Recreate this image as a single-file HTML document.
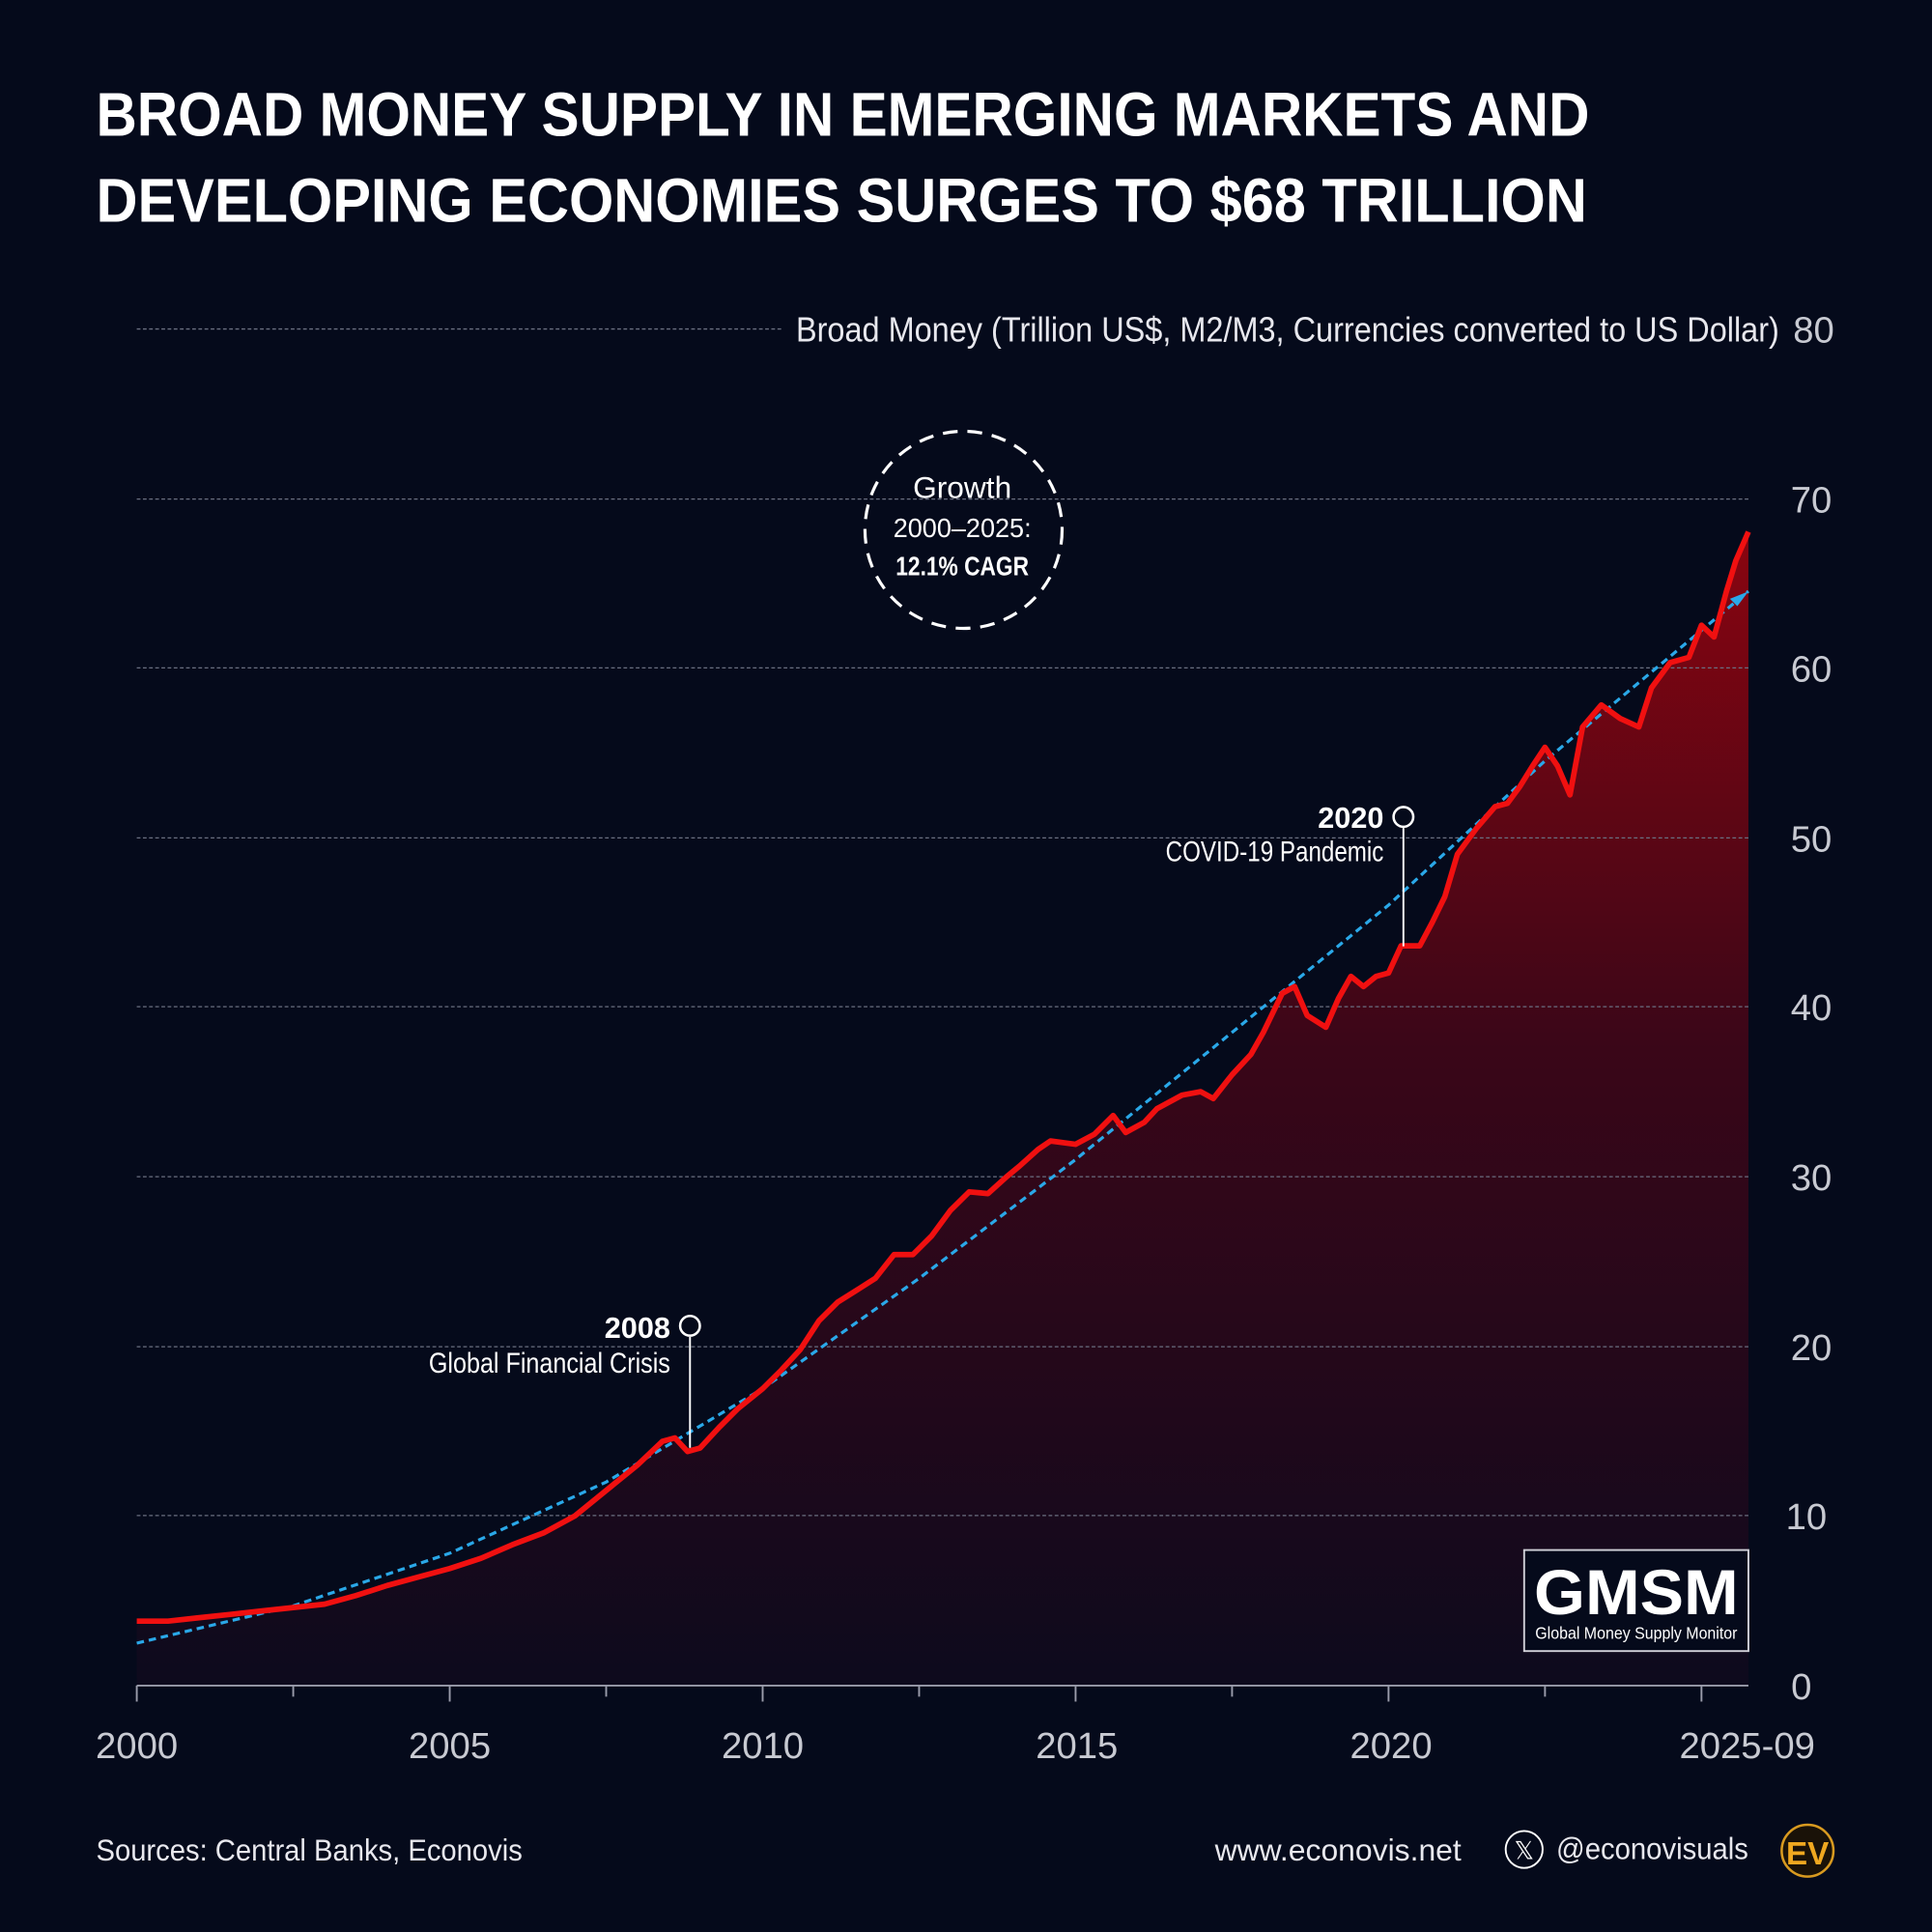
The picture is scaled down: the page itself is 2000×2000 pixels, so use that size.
<!DOCTYPE html>
<html><head><meta charset="utf-8"><style>
html,body{margin:0;padding:0;background:#050a1b;}
svg{display:block}
text{font-family:"Liberation Sans",sans-serif;}
</style></head><body>
<svg width="2000" height="2000" viewBox="0 0 1568 1568" xmlns="http://www.w3.org/2000/svg">
<defs>
<linearGradient id="fg" gradientUnits="userSpaceOnUse" x1="0" y1="430" x2="0" y2="1368">
<stop offset="0" stop-color="#8a0510"/>
<stop offset="0.45" stop-color="#3a0618"/>
<stop offset="1" stop-color="#0d0a1d"/>
</linearGradient>
</defs>
<rect width="1568" height="1568" fill="#050a1b"/>
<text x="78" y="110" font-size="50" font-weight="bold" fill="#fff" textLength="1212" lengthAdjust="spacingAndGlyphs">BROAD MONEY SUPPLY IN EMERGING MARKETS AND</text>
<text x="78" y="180" font-size="50" font-weight="bold" fill="#fff" textLength="1210" lengthAdjust="spacingAndGlyphs">DEVELOPING ECONOMIES SURGES TO $68 TRILLION</text>

<path id="area" fill="url(#fg)" d=""/>

<g stroke="#6a6f80" stroke-width="1" stroke-dasharray="3,2">
<line x1="111" x2="635" y1="267" y2="267"/>
<line x1="111" x2="1419" y1="405" y2="405"/>
<line x1="111" x2="1419" y1="542" y2="542"/>
<line x1="111" x2="1419" y1="680" y2="680"/>
<line x1="111" x2="1419" y1="817" y2="817"/>
<line x1="111" x2="1419" y1="955" y2="955"/>
<line x1="111" x2="1419" y1="1093" y2="1093"/>
<line x1="111" x2="1419" y1="1230" y2="1230"/>
</g>
<text x="1444" y="277" font-size="28" fill="#e8e8ee" text-anchor="end" textLength="798" lengthAdjust="spacingAndGlyphs">Broad Money (Trillion US$, M2/M3, Currencies converted to US Dollar)</text>
<g font-size="30" fill="#c8cad2" text-anchor="middle">
<text x="1472" y="278">80</text><text x="1470" y="416">70</text><text x="1470" y="553">60</text>
<text x="1470" y="691">50</text><text x="1470" y="828">40</text><text x="1470" y="966">30</text>
<text x="1470" y="1104">20</text><text x="1466" y="1241">10</text><text x="1462" y="1379">0</text>
</g>

<path id="trend" fill="none" stroke="#2aa8e8" stroke-width="2.5" stroke-dasharray="6,4" d=""/>
<path id="line" fill="none" stroke="#f01010" stroke-width="4.5" stroke-linejoin="round" d=""/>
<polygon points="1419,480 1404,486 1410,492" fill="#2aa8e8"/>

<line x1="111" x2="1419" y1="1368" y2="1368" stroke="#9a9cab" stroke-width="1.5"/>
<g id="ticks" stroke="#9a9cab" stroke-width="1.5"></g>
<g font-size="30" fill="#c8cad2" text-anchor="middle">
<text x="111" y="1427">2000</text><text x="365" y="1427">2005</text><text x="619" y="1427">2010</text>
<text x="874" y="1427">2015</text><text x="1129" y="1427">2020</text><text x="1418" y="1427">2025-09</text>
</g>

<circle cx="782" cy="430" r="80" fill="none" stroke="#fff" stroke-width="2.5" stroke-dasharray="12,8"/>
<g fill="#fff" text-anchor="middle">
<text x="781" y="404" font-size="25" textLength="80" lengthAdjust="spacingAndGlyphs">Growth</text>
<text x="781" y="436" font-size="22" textLength="112" lengthAdjust="spacingAndGlyphs">2000–2025:</text>
<text x="781" y="467" font-size="22" font-weight="bold" textLength="108" lengthAdjust="spacingAndGlyphs">12.1% CAGR</text>
</g>

<line x1="560" y1="1085" x2="560" y2="1175" stroke="#fff" stroke-width="1.5"/>
<circle cx="560" cy="1076" r="8" fill="#050a1b" stroke="#fff" stroke-width="2"/>
<text x="544" y="1086" font-size="24" font-weight="bold" fill="#fff" text-anchor="end">2008</text>
<text x="544" y="1114" font-size="23" fill="#fff" text-anchor="end" textLength="196" lengthAdjust="spacingAndGlyphs">Global Financial Crisis</text>

<line x1="1139" y1="672" x2="1139" y2="768" stroke="#fff" stroke-width="1.5"/>
<circle cx="1139" cy="663" r="8" fill="#050a1b" stroke="#fff" stroke-width="2"/>
<text x="1123" y="672" font-size="24" font-weight="bold" fill="#fff" text-anchor="end">2020</text>
<text x="1123" y="699" font-size="23" fill="#fff" text-anchor="end" textLength="177" lengthAdjust="spacingAndGlyphs">COVID-19 Pandemic</text>

<rect x="1237" y="1258" width="182" height="82" fill="#050a1b" stroke="#d0d0d8" stroke-width="1.5"/>
<text x="1328" y="1310" font-size="52" font-weight="bold" fill="#fff" text-anchor="middle" textLength="166" lengthAdjust="spacingAndGlyphs">GMSM</text>
<text x="1328" y="1330" font-size="14" fill="#fff" text-anchor="middle" textLength="164" lengthAdjust="spacingAndGlyphs">Global Money Supply Monitor</text>

<text x="78" y="1510" font-size="25" fill="#e8e8ee" textLength="346" lengthAdjust="spacingAndGlyphs">Sources: Central Banks, Econovis</text>
<text x="1186" y="1510" font-size="25" fill="#e8e8ee" text-anchor="end">www.econovis.net</text>
<circle cx="1237" cy="1501" r="15" fill="none" stroke="#fff" stroke-width="1.5"/>
<text x="1237" y="1509" font-size="20" fill="#fff" text-anchor="middle">𝕏</text>
<text x="1419" y="1509" font-size="25" fill="#e8e8ee" text-anchor="end" textLength="156" lengthAdjust="spacingAndGlyphs">@econovisuals</text>
<circle cx="1467" cy="1502" r="21" fill="#1a1208" stroke="#d89a20" stroke-width="2"/>
<text x="1467" y="1513" font-size="26" font-weight="bold" fill="#f0a820" text-anchor="middle">EV</text>
</svg>
<script>
var X=function(y){return 111+(y-2000)*(1308/25.75)};
var Y=function(v){return 1368-v*13.77};
var d=[[2000,3.8],[2000.5,3.8],[2001,4.0],[2001.5,4.2],[2002,4.4],[2002.5,4.6],[2003,4.8],[2003.5,5.3],[2004,5.9],[2004.5,6.4],[2005,6.9],[2005.5,7.5],[2006,8.3],[2006.5,9.0],[2007,10.0],[2007.5,11.5],[2008,13.0],[2008.4,14.4],[2008.6,14.6],[2008.8,13.8],[2009,14.0],[2009.3,15.2],[2009.6,16.3],[2010,17.5],[2010.3,18.6],[2010.6,19.8],[2010.9,21.5],[2011.2,22.6],[2011.5,23.3],[2011.8,24.0],[2012.1,25.4],[2012.4,25.4],[2012.7,26.5],[2013,28.0],[2013.3,29.1],[2013.6,29.0],[2013.9,30.0],[2014.1,30.6],[2014.4,31.6],[2014.6,32.1],[2015,31.9],[2015.3,32.5],[2015.6,33.6],[2015.8,32.6],[2016.1,33.2],[2016.3,34.0],[2016.7,34.8],[2017,35.0],[2017.2,34.6],[2017.5,36.0],[2017.8,37.2],[2018,38.5],[2018.3,40.8],[2018.5,41.2],[2018.7,39.5],[2019,38.8],[2019.2,40.5],[2019.4,41.8],[2019.6,41.2],[2019.8,41.8],[2020,42.0],[2020.2,43.6],[2020.5,43.6],[2020.7,45.0],[2020.9,46.5],[2021.1,49.0],[2021.4,50.5],[2021.7,51.8],[2021.9,52.0],[2022.1,53.0],[2022.3,54.2],[2022.5,55.3],[2022.7,54.2],[2022.9,52.5],[2023.1,56.5],[2023.4,57.8],[2023.7,57.0],[2024,56.5],[2024.2,58.8],[2024.5,60.3],[2024.8,60.6],[2025.0,62.5],[2025.2,61.8],[2025.4,64.5],[2025.55,66.3],[2025.75,68.0]];
var p=d.map(function(a,i){return (i?'L':'M')+X(a[0]).toFixed(1)+','+Y(a[1]).toFixed(1)}).join('');
document.getElementById('line').setAttribute('d',p);
document.getElementById('area').setAttribute('d',p+'L1419,1368L111,1368Z');
var t=[[2000,2.5],[2002.5,4.7],[2005,7.8],[2007.5,12.0],[2010,17.5],[2012.5,24.0],[2015,31.0],[2017.5,38.5],[2020,46.0],[2022.5,54.5],[2025.75,64.5]];
var q='M'+X(t[0][0])+','+Y(t[0][1]);
for(var i=1;i<t.length;i++){var b=t[i];q+='L'+X(b[0]).toFixed(1)+','+Y(b[1]).toFixed(1);}
document.getElementById('trend').setAttribute('d',q);
var g=document.getElementById('ticks'),s='';
for(var y=2000;y<=2025;y+=2.5){var len=(y%5==0)?13:9;s+='<line x1="'+X(y)+'" x2="'+X(y)+'" y1="1368" y2="'+(1368+len)+'"/>';}
g.innerHTML=s;
</script>
</body></html>
